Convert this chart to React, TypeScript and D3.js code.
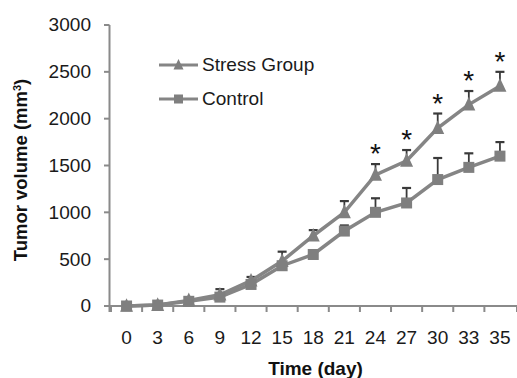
import React from "react";
import * as d3 from "d3";

const categories = ["0", "3", "6", "9", "12", "15", "18", "21", "24", "27", "30", "33", "35"];
const stressValues = [0, 10, 60, 120, 270, 480, 750, 1000, 1400, 1550, 1900, 2150, 2350];
const stressErr = [0, 10, 20, 60, 40, 100, 60, 120, 115, 115, 155, 145, 150];
const controlValues = [0, 10, 50, 95, 230, 430, 550, 800, 1000, 1100, 1350, 1480, 1600];
const controlErr = [0, 10, 20, 30, 30, 40, 40, 60, 150, 160, 230, 150, 150];
const significant = [false, false, false, false, false, false, false, false, true, true, true, true, true];
const yTicks = [0, 500, 1000, 1500, 2000, 2500, 3000];

const FONT = "'Liberation Sans', Arial, sans-serif";
const LINE = "#858585";
const MARK = "#7f7f7f";
const ERR = "#3a3a3a";
const AXIS = "#8a8a8a";
const SX = 1.06;

export default function App() {
  const W = 517, H = 378;
  const x = d3.scaleBand<string>().domain(categories).range([111, 515.5]);
  const y = d3.scaleLinear().domain([0, 3000]).range([306, 25]);
  const cx = (c: string) => (x(c) as number) + x.bandwidth() / 2;
  const line = d3
    .line<number>()
    .x((_, i) => cx(categories[i]))
    .y((v) => y(v));

  const tri = (px: number, py: number, s: number) =>
    `M${px},${py - s * 0.6}L${px + s / 2},${py + s * 0.45}L${px - s / 2},${py + s * 0.45}Z`;

  const errBars = (vals: number[], errs: number[], key: string) =>
    vals.map((v, i) => {
      if (errs[i] <= 0) return null;
      const px = cx(categories[i]);
      const top = y(v + errs[i]);
      return (
        <g key={key + i} stroke={ERR} strokeWidth={1.8}>
          <line x1={px} x2={px} y1={y(v)} y2={top} />
          <line x1={px - 4.5} x2={px + 4.5} y1={top} y2={top} strokeWidth={2.2} />
        </g>
      );
    });

  const boundaries = categories.map((c) => x(c) as number).concat([517]);

  return (
    <svg
      width={W}
      height={H}
      style={{ position: "absolute", left: 0, top: 0, background: "#fff" }}
      fontFamily={FONT}
    >
      {/* axes */}
      <line x1={109.5} x2={109.5} y1={25} y2={312} stroke={AXIS} strokeWidth={2} />
      <line x1={104} x2={517} y1={306} y2={306} stroke={AXIS} strokeWidth={2} />
      {yTicks.map((t) => (
        <g key={"yt" + t}>
          <line x1={104} x2={109.5} y1={y(t)} y2={y(t)} stroke={AXIS} strokeWidth={2} />
          <text
            transform={`translate(91,${y(t)}) scale(${SX},1)`}
            dy="0.36em"
            textAnchor="end"
            fontSize={18}
            fill="#1a1a1a"
          >
            {t}
          </text>
        </g>
      ))}
      {boundaries.map((b, i) => (
        <line key={"xt" + i} x1={b} x2={b} y1={306} y2={312} stroke={AXIS} strokeWidth={2} />
      ))}
      {categories.map((c) => (
        <text
          key={"xl" + c}
          transform={`translate(${cx(c)},344) scale(${SX},1)`}
          textAnchor="middle"
          fontSize={18}
          fill="#1a1a1a"
        >
          {c}
        </text>
      ))}
      <text x={315.5} y={375} textAnchor="middle" fontSize={19} fontWeight="bold" fill="#111">
        Time (day)
      </text>
      <text
        transform="translate(27,170) rotate(-90)"
        textAnchor="middle"
        fontSize={18.5}
        fontWeight="bold"
        fill="#111"
      >
        Tumor volume (mm<tspan baselineShift="super" fontSize={11}>3</tspan>)
      </text>

      {/* error bars */}
      {errBars(controlValues, controlErr, "ce")}
      {errBars(stressValues, stressErr, "se")}

      {/* lines */}
      <path d={line(controlValues) || ""} fill="none" stroke={LINE} strokeWidth={3.5} />
      <path d={line(stressValues) || ""} fill="none" stroke={LINE} strokeWidth={3.5} />

      {/* markers */}
      {stressValues.map((v, i) => (
        <path key={"sm" + i} d={tri(cx(categories[i]), y(v), 13)} fill={MARK} />
      ))}
      {controlValues.map((v, i) => (
        <rect
          key={"cm" + i}
          x={cx(categories[i]) - 5.5}
          y={y(v) - 5.5}
          width={11}
          height={11}
          fill={MARK}
        />
      ))}

      {/* significance stars */}
      {stressValues.map((v, i) =>
        significant[i] ? (
          <text
            key={"st" + i}
            x={cx(categories[i])}
            y={y(v + stressErr[i]) - 1}
            textAnchor="middle"
            fontSize={28}
            fill="#111"
          >
            *
          </text>
        ) : null
      )}

      {/* legend */}
      <line x1={159} x2={198} y1={65} y2={65} stroke={LINE} strokeWidth={3} />
      <path d={tri(178.5, 65, 10)} fill={MARK} />
      <text transform={`translate(202,65) scale(${SX},1)`} dy="0.36em" fontSize={18} fill="#1a1a1a">
        Stress Group
      </text>
      <line x1={159} x2={198} y1={99} y2={99} stroke={LINE} strokeWidth={3} />
      <rect x={174} y={94.5} width={9} height={9} fill={MARK} />
      <text transform={`translate(202,99) scale(${SX},1)`} dy="0.36em" fontSize={18} fill="#1a1a1a">
        Control
      </text>
    </svg>
  );
}
